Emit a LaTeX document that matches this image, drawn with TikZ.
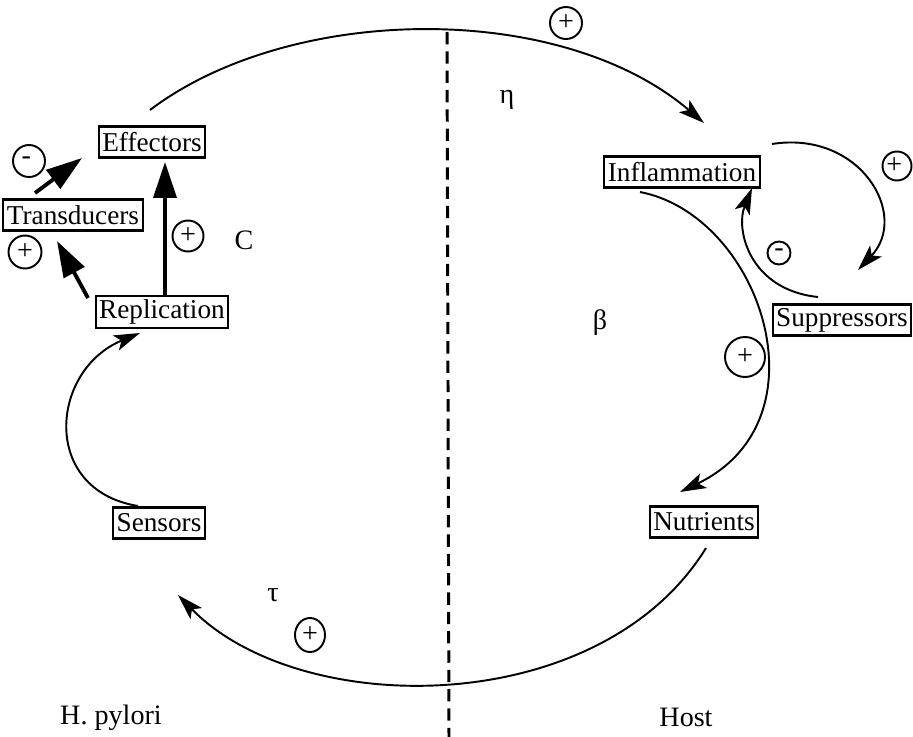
\documentclass[tikz,border=0pt]{standalone}
\usepackage{fontspec}
\setmainfont{Liberation Serif}
\usetikzlibrary{arrows.meta,calc,shapes.geometric}
\begin{document}
\begin{tikzpicture}[x=0.02cm,y=-0.02cm,
  box/.style={draw,line width=1.2pt,inner sep=2pt,minimum height=0.62cm,font=\fontsize{15.5}{17}\selectfont},
  sign/.style={draw,circle,line width=1.1pt,minimum size=0.6cm,inner sep=0pt,font=\fontsize{16}{16}\selectfont},
  thinarrow/.style={line width=1.1pt,-{Stealth[length=0.52cm,width=0.32cm,inset=0.12cm]}},
  thickarrow/.style={line width=2.2pt,-{Triangle[length=0.72cm,width=0.46cm]}},
  lbl/.style={font=\fontsize{16}{18}\selectfont}]
\useasboundingbox (0,0) rectangle (913,737);

% boxes
\node[box] (eff) at (152,142) {Effectors};
\node[box] (tra) at (73,215) {Transducers};
\node[box] (rep) at (162,312) {Replication};
\node[box] (sen) at (159,523) {Sensors};
\node[box] (inf) at (682,172) {Inflammation};
\node[box] (sup) at (842,320) {Suppressors};
\node[box] (nut) at (704,522) {Nutrients};

% divider
\coordinate (dtop) at (447,32);
\coordinate (dbot) at (449,737);
\draw[line width=1.7pt,dash pattern=on 7pt off 4pt] (dtop) -- (dbot);

% free ends of the curved connectors
\coordinate (ts) at (150,110);
\coordinate (te) at (704,123);
\coordinate (bs) at (706,548);
\coordinate (be) at (178,595);
\coordinate (ss) at (138,506);
\coordinate (se) at (140,333);
\coordinate (ns) at (640,192);
\coordinate (ne) at (680,492);
\coordinate (qs) at (818,297);
\coordinate (qe) at (752,188);
\coordinate (rs) at (772,144);
\coordinate (re) at (858,270);

\draw[thinarrow] (ts) .. controls (290,4) and (560,0) .. (te);
\draw[thinarrow] (bs) .. controls (600,720) and (300,720) .. (be);
\draw[thinarrow] (ss) .. controls (40,490) and (50,370) .. (se);
\draw[thinarrow] (ns) .. controls (760,215) and (830,420) .. (ne);
\draw[thinarrow] (qs) .. controls (750,290) and (735,230) .. (qe);
\draw[thinarrow] (rs) .. controls (860,130) and (910,215) .. (re);

% thick arrows
\coordinate (r1) at (165,297);
\coordinate (e1) at (165,162);
\coordinate (r2) at (88,298);
\coordinate (t2) at (57,241);
\coordinate (t3) at (35,193);
\coordinate (e3) at (82,158);
\draw[thickarrow] (r1) -- (e1);
\draw[thickarrow] (r2) -- (t2);
\draw[thickarrow] (t3) -- (e3);

% signs
\node[sign,minimum size=0.64cm] (p1) at (566,23) {+};
\node[sign,minimum size=0.58cm] (p2) at (897,166) {\hspace*{-3pt}+};
\node[sign,minimum size=0.46cm] (m1) at (779,253) {-};
\node[sign,minimum size=0.8cm] (p3) at (745,357) {+};
\node[sign,ellipse,minimum width=0.6cm,minimum height=0.68cm] (p4) at (310,635) {\raisebox{-6pt}{+}};
\node[sign,minimum size=0.62cm] (p5) at (188,236) {\raisebox{-5pt}{+}};
\node[sign,minimum size=0.66cm] (p6) at (25,252) {\raisebox{-5pt}{+}};
\node[sign,minimum size=0.64cm] (m2) at (29,161) {\hspace*{-3pt}-};

% labels
\node[lbl] (eta) at (507,100) {η};
\node[lbl] (cc) at (244,240) {C};
\node[lbl] (beta) at (600,323) {β};
\node[lbl] (tau) at (273,595) {τ};
\node[lbl] (hp) at (111,718) {H. pylori};
\node[lbl] (host) at (686,717) {Host};
\end{tikzpicture}
\end{document}
